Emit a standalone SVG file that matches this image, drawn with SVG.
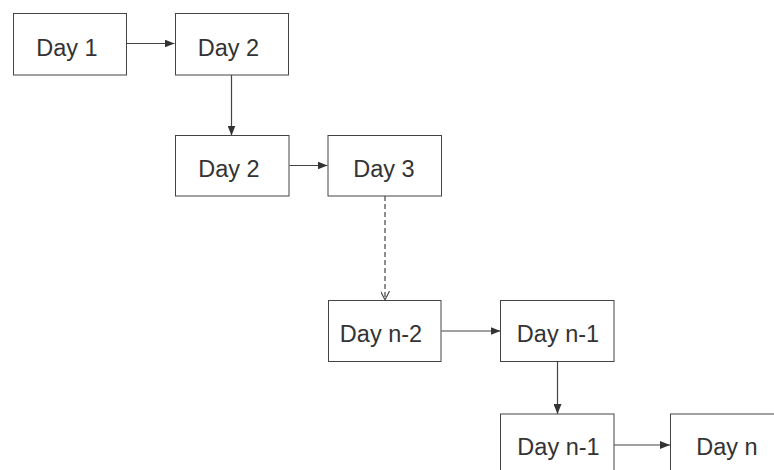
<svg xmlns="http://www.w3.org/2000/svg" width="774" height="470" viewBox="0 0 774 470">
<style>
.box{fill:#fff;stroke:#444;stroke-width:1}
.lbl{font-family:"Liberation Sans",Arial,sans-serif;font-size:23.5px;fill:#333;text-anchor:middle}
.c{fill:none;stroke:#444;stroke-width:1.2}
.d{stroke-dasharray:5,3}
</style>
<defs>
<marker id="ah" viewBox="0 0 10 8" refX="10" refY="4" markerWidth="10" markerHeight="8" markerUnits="userSpaceOnUse" orient="auto">
<path d="M0,0 L10,4 L0,8 z" fill="#333"/>
</marker>
<marker id="av" viewBox="0 0 10 10" refX="10" refY="5" markerWidth="9" markerHeight="9" markerUnits="userSpaceOnUse" orient="auto">
<path d="M0,0 L10,5 L0,10" fill="none" stroke="#444" stroke-width="1.2"/>
</marker>
</defs>
<rect width="774" height="470" fill="#fff"/>
<g id="connectors">
<line class="c" x1="127" y1="43.5" x2="174.5" y2="43.5" marker-end="url(#ah)"/>
<line class="c" x1="231.5" y1="75" x2="231.5" y2="135.5" marker-end="url(#ah)"/>
<line class="c" x1="289.5" y1="165.5" x2="327.5" y2="165.5" marker-end="url(#ah)"/>
<line class="c d" x1="385" y1="196" x2="385" y2="300" marker-end="url(#av)"/>
<line class="c" x1="441.5" y1="331" x2="500.5" y2="331" marker-end="url(#ah)"/>
<line class="c" x1="557.5" y1="362" x2="557.5" y2="414" marker-end="url(#ah)"/>
<line class="c" x1="614" y1="445" x2="670" y2="445" marker-end="url(#ah)"/>
</g>
<g id="n1"><rect class="box" x="13.5" y="13.5" width="113" height="61.5"/><text class="lbl" x="67" y="55.5">Day 1</text></g>
<g id="n2"><rect class="box" x="175.5" y="13.5" width="113" height="61.5"/><text class="lbl" x="228.5" y="55.5">Day 2</text></g>
<g id="n3"><rect class="box" x="175.5" y="135.5" width="113.5" height="60.5"/><text class="lbl" x="229" y="177">Day 2</text></g>
<g id="n4"><rect class="box" x="328" y="135.5" width="113.5" height="60.5"/><text class="lbl" x="384" y="177">Day 3</text></g>
<g id="n5"><rect class="box" x="328.5" y="300.5" width="112.5" height="61"/><text class="lbl" x="381" y="342">Day n-2</text></g>
<g id="n6"><rect class="box" x="500.5" y="300.5" width="113.5" height="61"/><text class="lbl" x="558" y="342">Day n-1</text></g>
<g id="n7"><rect class="box" x="500.5" y="414" width="113.5" height="61"/><text class="lbl" x="558.5" y="455">Day n-1</text></g>
<g id="n8"><rect class="box" x="670.5" y="414" width="113.5" height="61"/><text class="lbl" x="727" y="455">Day n</text></g>
</svg>
